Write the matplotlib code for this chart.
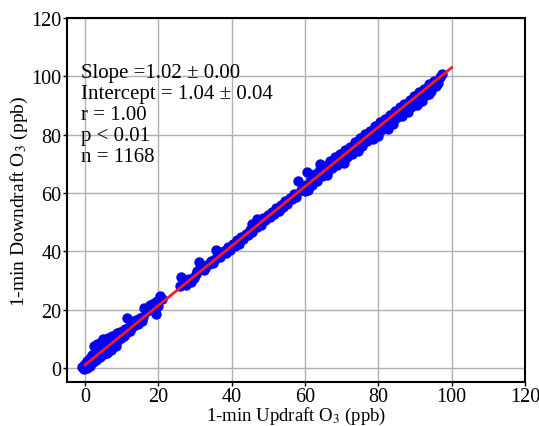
import numpy as np
import matplotlib
matplotlib.use("Agg")
import matplotlib.pyplot as plt

plt.rcParams["font.family"] = ["Liberation Serif", "DejaVu Serif"]
plt.rcParams["mathtext.fontset"] = "stix"

# 1-min updraft / downdraft O3 (ppb)
updraft = [
    -0.8, -0.4, -0.2, 0.0, 0.2, 0.4, 0.6, 0.8, 1.0, 1.2, 1.4, 1.6, 1.8, 2.0, 2.2, 2.5, 2.6, 2.9,
    3.1, 3.3, 3.5, 3.8, 4.0, 4.3, 4.5, 4.8, 5.0, 5.2, 5.5, 5.8, 6.0, 6.3, 6.5, 6.8, 7.0, 7.3,
    7.5, 7.8, 8.0, 8.3, 8.5, 8.8, 9.0, 9.3, 9.6, 9.9, 10.2, 10.5, 10.8, 11.1, 11.5, 11.8, 12.1,
    12.4, 12.8, 13.2, 13.6, 14.0, 14.5, 15.0, 15.4, 15.8,
    16.1, 16.8, 17.3, 17.8, 18.3, 18.8, 19.3, 19.6, 20.0, 20.5, 20.9, 19.0,
    26.2, 26.0, 26.6, 27.0, 27.4, 27.8, 28.3, 28.8, 29.3, 29.8, 30.2, 30.6, 31.0, 31.4, 31.9,
    32.3, 32.8, 33.3, 33.8, 34.3, 34.8, 35.3, 35.8, 36.3, 36.8,
    37.8, 38.4, 39.0, 39.6, 40.2, 40.8, 41.4, 42.0, 42.6, 43.2, 43.8, 44.4, 45.0, 45.6, 46.2,
    46.8, 47.4, 48.0, 48.6, 49.2, 49.8, 50.4, 51.0, 51.6, 52.2, 52.8, 53.4, 54.0, 54.6, 55.2,
    55.8, 56.4, 57.0, 57.6, 58.2, 58.8, 59.4, 60.4, 64.0, 59.9, 47.0, 45.5,
    60.3, 60.8, 61.5, 61.9, 62.4, 62.8, 63.3, 63.7, 64.2, 64.6, 65.1, 65.5, 66.0, 66.4, 66.9,
    67.3, 67.8, 68.2, 68.7, 69.1, 69.6, 70.0, 70.5, 70.9, 71.4, 71.8, 72.3, 72.7, 73.2, 73.6,
    74.1, 74.5, 75.0, 75.4, 75.9, 76.3, 76.8, 77.2, 77.7, 78.1, 78.6, 79.0, 79.5, 79.9, 80.4,
    80.8, 81.3, 81.7, 82.2, 82.6, 83.1, 83.5, 84.0, 84.4, 84.9, 85.3, 85.8, 86.2, 86.7, 87.1,
    87.6, 88.0, 88.5, 88.9, 89.4, 89.8, 90.3, 90.7, 91.2, 91.6, 92.1, 92.5, 93.0, 93.4, 93.9,
    94.3, 94.8, 95.3, 95.8, 96.2, 96.8, 97.3,
    82.5, 86.5, 90.5, 93.8, 78.5, 74.5, 84.0, 88.2, 92.0, 80.0, 70.5, 66.0,
]
downdraft = [
    0.2, 0.9, -0.3, 0.5, 1.6, 0.1, 2.2, 1.0, 2.8, 0.8, 3.4, 1.8, 2.6, 4.5, 2.0, 7.6, 3.8, 2.6,
    5.0, 8.2, 4.1, 6.5, 3.6, 9.0, 5.4, 7.2, 9.8, 4.6, 7.0, 8.4, 5.2, 10.2, 7.6, 9.0, 6.2, 10.8,
    8.4, 9.6, 11.0, 7.6, 10.0, 11.8, 9.4, 11.0, 12.4, 10.2, 12.8, 11.0, 13.2, 12.0, 17.0, 13.8, 12.8,
    15.0, 14.0, 16.0, 14.6, 16.6, 15.2, 17.0, 16.0, 17.4,
    20.4, 19.6, 20.8, 21.5, 20.6, 22.3, 18.4, 22.9, 21.4, 24.8, 23.5, 20.0,
    31.3, 28.0, 28.8, 30.0, 28.6, 29.8, 30.5, 29.5, 31.0, 30.8, 32.2, 33.2, 36.4, 33.8, 35.0,
    33.5, 34.4, 35.2, 35.8, 36.6, 36.0, 37.4, 40.5, 38.6, 38.0,
    40.2, 39.5, 41.5, 40.4, 42.6, 41.9, 43.8, 42.6, 44.9, 44.2, 45.8, 45.6, 47.4, 46.8, 48.9,
    48.3, 50.1, 49.2, 51.3, 50.6, 52.4, 51.9, 53.6, 52.8, 54.9, 54.0, 55.8, 55.3, 57.2, 56.4,
    58.4, 57.9, 59.6, 58.7, 64.3, 60.9, 61.2, 67.3, 69.8, 60.6, 51.2, 49.5,
    62.9, 61.2, 64.8, 62.6, 64.1, 66.6, 64.2, 66.1, 68.4, 65.9, 67.0, 69.2, 66.9, 68.8, 71.0,
    68.5, 70.2, 72.3, 69.6, 71.2, 73.4, 71.1, 72.6, 74.8, 72.3, 73.5, 75.9, 73.4, 75.1, 77.6,
    74.9, 76.6, 78.9, 76.3, 77.8, 80.2, 77.9, 79.3, 81.4, 78.9, 80.6, 82.9, 80.3, 81.9, 84.3,
    81.6, 82.9, 85.4, 83.1, 84.6, 86.8, 84.2, 86.1, 88.3, 85.6, 87.0, 89.4, 86.9, 88.5, 90.6,
    88.3, 89.6, 91.8, 89.7, 91.2, 93.3, 91.0, 92.4, 94.6, 92.2, 93.9, 95.8, 93.8, 95.3, 97.4,
    95.0, 96.6, 98.3, 96.7, 97.6, 99.9, 100.7,
    82.0, 86.3, 90.2, 94.0, 78.6, 74.4, 83.6, 87.9, 91.6, 79.6, 70.4, 66.1,
]

slope = 1.02
intercept = 1.04
stats_lines = ["Slope =1.02 ± 0.00", "Intercept = 1.04 ± 0.04", "r = 1.00", "p < 0.01", "n = 1168"]

fig = plt.figure(figsize=(5.39, 4.27), dpi=100)
ax = fig.add_axes([0.124, 0.102, 0.850, 0.853])

ax.scatter(updraft, downdraft, s=42, color="#0000ff", zorder=3)
fit_x = np.array([0, 100])
ax.plot(fit_x, slope * fit_x + intercept, color="#ff1a1a", lw=2, zorder=4)

ax.set_xlim(-5, 120)
ax.set_ylim(-5, 120)
ax.set_xticks(range(0, 121, 20))
ax.set_yticks(range(0, 121, 20))
ax.grid(True, color="#b0b0b0", lw=1)
ax.set_axisbelow(True)
ax.tick_params(labelsize=14.5, direction="out", length=3, width=1, pad=1)
ax.tick_params(axis="x", pad=0)
for sp in ax.spines.values():
    sp.set_linewidth(1.5)

ax.set_xlabel("1-min Updraft O$_3$ (ppb)", fontsize=13.5, labelpad=-0.5)
ax.set_ylabel("1-min Downdraft O$_3$ (ppb)", fontsize=14, labelpad=1)

ax.text(0.03, 0.876, "\n".join(stats_lines), transform=ax.transAxes, fontsize=15,
        va="top", ha="left", linespacing=1.13)

fig.savefig("out.png", dpi=100)
